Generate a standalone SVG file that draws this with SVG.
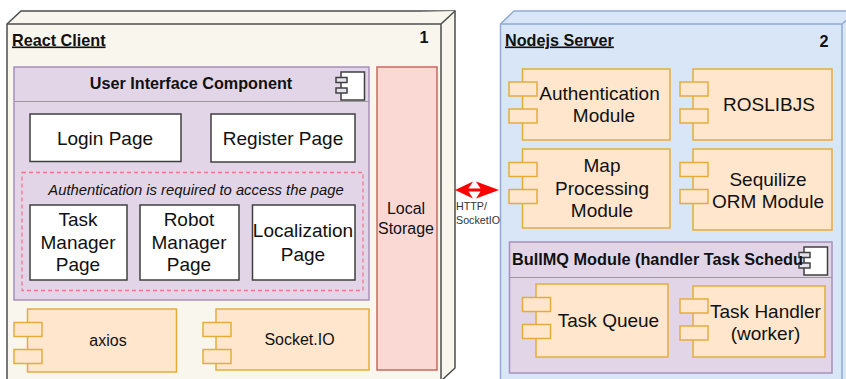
<svg xmlns="http://www.w3.org/2000/svg" width="846" height="379" viewBox="0 0 846 379">
<style>
text{font-family:"Liberation Sans",Arial,sans-serif;fill:#111;text-anchor:middle}
.t{font-size:19px}
.b{font-size:16.200px;font-weight:bold;text-anchor:start}
.n{font-size:16.200px;font-weight:bold}
.s{font-size:16px}
.cb{fill:#f9f7ed;stroke:#4d4d4d;stroke-width:1.5}
.sb{fill:#d8e6f8;stroke:#8fabd4;stroke-width:1.5}
.p{fill:#e1d5e7;stroke:#a98fba;stroke-width:1.5}
.w{fill:#fff;stroke:#404040;stroke-width:1.5}
.o{fill:#ffe6cc;stroke:#e3ad3c;stroke-width:1.5}
.d{stroke:#9a9a9a;stroke-width:1;fill:none}
.l{font-size:10.700px;text-anchor:start;fill:#333}
</style>
<defs>
<g id="ports"><rect x="0" y="0" width="28" height="14" class="o"/><rect x="0" y="27" width="28" height="14" class="o"/></g>
<g id="icon"><rect x="5" y="0" width="23.500" height="28" class="w"/><rect x="0" y="5.500" width="11" height="5" class="w" style="fill:#e8e2ec"/><rect x="0" y="16" width="11" height="5" class="w" style="fill:#e8e2ec"/></g>
</defs>
<g id="react-client">
<path class="cb" d="M7 24L21 11H455V368L441 381H7Z"/>
<path class="cb" d="M7 24H441L455 11M441 24V381"/>
<text class="b" x="12" y="45.500" text-decoration="underline">React Client</text>
<text class="n" x="424" y="43">1</text>
</g>
<g id="nodejs-server">
<path class="sb" d="M500.500 24L514 11H850V381H500.500Z"/>
<path class="sb" d="M500.500 24H842L850 17M842 24V381"/>
<text class="b" x="505" y="45.500" text-decoration="underline">Nodejs Server</text>
<text class="n" x="824" y="46.500">2</text>
</g>
<g id="ui-component">
<rect class="p" x="14" y="67" width="355" height="233"/>
<path class="d" d="M14 101.500H369"/>
<text class="n" x="191" y="88.500">User Interface Component</text>
<use href="#icon" x="336" y="72"/>
</g>
<g id="auth-zone"><rect x="22" y="172.500" width="341" height="118" fill="none" stroke="#f2798c" stroke-width="1.300" stroke-dasharray="4 3"/>
<text x="196" y="195" font-size="14.800" font-style="italic">Authentication is required to access the page</text></g>
<g id="login-page"><rect class="w" x="30" y="114" width="151" height="47.500"/><text class="t" x="105" y="144.500">Login Page</text></g>
<g id="register-page"><rect class="w" x="211" y="114" width="144" height="48"/><text class="t" x="283" y="144.500">Register Page</text></g>
<g id="task-manager-page"><rect class="w" x="30" y="205" width="97" height="75"/><text class="t" x="78" y="226">Task</text><text class="t" x="78" y="249">Manager</text><text class="t" x="78" y="271">Page</text></g>
<g id="robot-manager-page"><rect class="w" x="140" y="205" width="99" height="75"/><text class="t" x="189" y="226">Robot</text><text class="t" x="189" y="249">Manager</text><text class="t" x="189" y="271">Page</text></g>
<g id="localization-page"><rect class="w" x="252.500" y="205" width="102.500" height="75"/><text class="t" x="303" y="237">Localization</text><text class="t" x="303" y="261">Page</text></g>
<g id="axios"><rect class="o" x="27.500" y="309" width="149" height="63"/><use href="#ports" x="14" y="322.500"/><text class="s" x="108" y="346">axios</text></g>
<g id="socket-io"><rect class="o" x="216" y="309" width="153" height="61"/><use href="#ports" x="203" y="322.500"/><text class="s" x="299.500" y="345">Socket.IO</text></g>
<g id="local-storage"><rect x="377" y="67" width="60" height="303" fill="#fad9d5" stroke="#c8695f" stroke-width="1.500"/><text class="s" x="406" y="214">Local</text><text class="s" x="406" y="234">Storage</text></g>
<g id="connectors"><path d="M455 190L473 181.500L468.500 188.500H480.500L476 181.500L499 190L476 198.500L480.500 191.500H468.500L473 198.500Z" fill="#f00"/></g>
<g id="http-label"><text class="l" x="456" y="210">HTTP/</text><text class="l" x="456" y="223.500">SocketIO</text></g>
<g id="auth-module"><rect class="o" x="522.500" y="69" width="147.500" height="71"/><use href="#ports" x="509" y="82"/><text class="t" x="599.500" y="100">Authentication</text><text class="t" x="604" y="122">Module</text></g>
<g id="roslibjs"><rect class="o" x="693" y="69" width="139" height="71"/><use href="#ports" x="680" y="82"/><text class="t" x="769" y="111">ROSLIBJS</text></g>
<g id="map-module"><rect class="o" x="522.500" y="149" width="147.500" height="79"/><use href="#ports" x="509" y="162.500"/><text class="t" x="602" y="172">Map</text><text class="t" x="602" y="195">Processing</text><text class="t" x="602" y="217">Module</text></g>
<g id="orm-module"><rect class="o" x="693" y="149" width="139" height="81"/><use href="#ports" x="680" y="162.500"/><text class="t" x="768" y="185.500">Sequilize</text><text class="t" x="768" y="207.500">ORM Module</text></g>
<g id="bullmq-module"><rect class="p" x="509.500" y="242" width="322.500" height="131"/><path class="d" d="M509.500 277.500H832"/><use href="#icon" x="799" y="247"/><text class="b" x="512" y="265" style="font-size:16.300px">BullMQ Module (handler Task Schedu</text></g>
<g id="task-queue"><rect class="o" x="536" y="284" width="132" height="73"/><use href="#ports" x="522.500" y="297.500"/><text class="t" x="608.500" y="327">Task Queue</text></g>
<g id="task-handler"><rect class="o" x="693" y="286" width="132" height="71"/><use href="#ports" x="680" y="299"/><text class="t" x="765.500" y="318">Task Handler</text><text class="t" x="765.500" y="340">(worker)</text></g>
</svg>
